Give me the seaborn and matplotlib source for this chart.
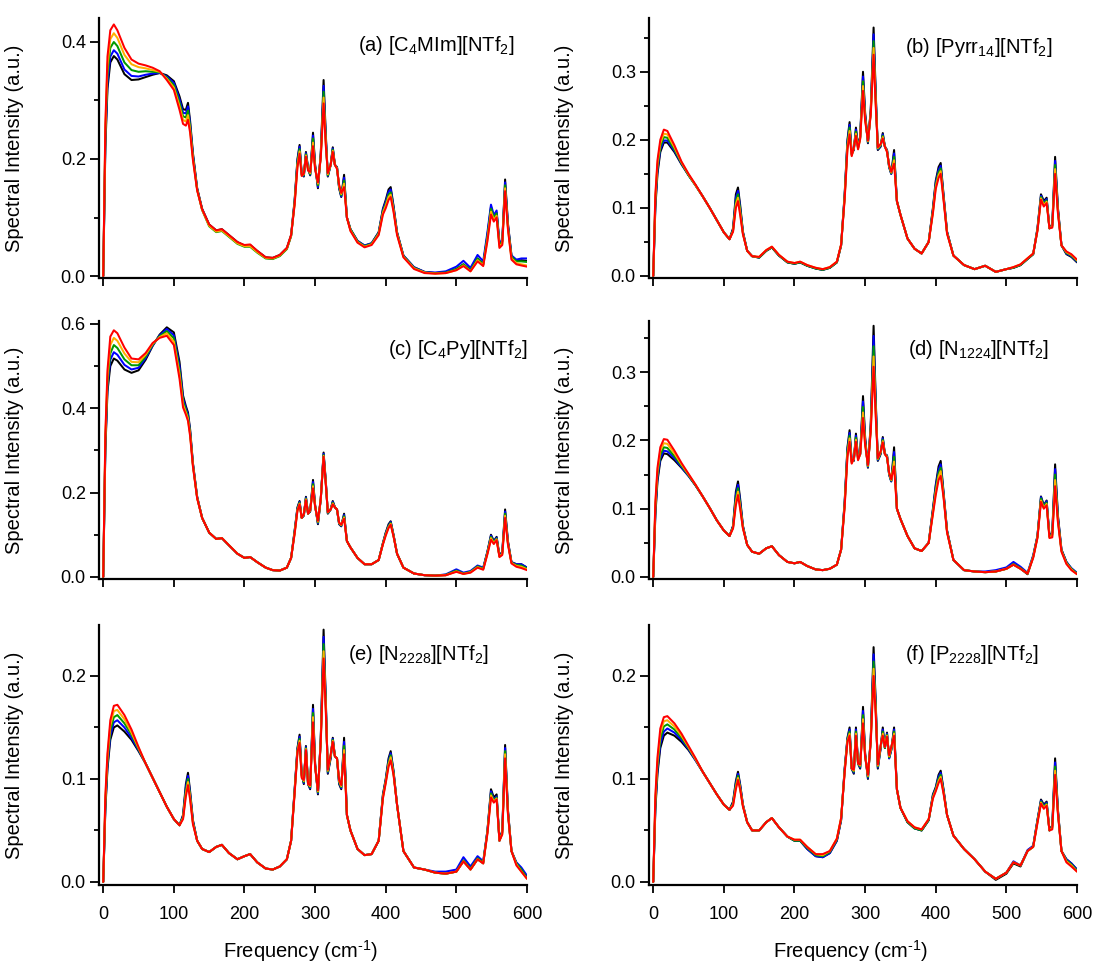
import numpy as np
import pandas as pd
import matplotlib
matplotlib.use("Agg")
import matplotlib.pyplot as plt
from matplotlib.ticker import MultipleLocator, FormatStrFormatter
import seaborn as sns

# ---------------------------------------------------------------- data
freq = [0, 3, 6, 10, 15, 20, 30, 40, 50, 60,
        70, 80, 90, 100, 108, 113, 117, 120, 123, 127,
        133, 140, 150, 160, 168, 178, 190, 200, 208, 218,
        230, 240, 250, 260, 266, 271, 275, 278, 281, 284,
        287, 290, 293, 297, 300, 304, 308, 312, 315, 318,
        322, 325, 328, 331, 334, 337, 341, 345, 350, 360,
        370, 380, 390, 396, 400, 404, 407, 411, 416, 425,
        440, 455, 470, 485, 500, 510, 520, 530, 538, 544,
        549, 553, 557, 561, 565, 569, 573, 578, 585, 592, 600]

trace_names = ["black", "blue", "green", "orange", "red"]
trace_colors = ["#000000", "#0000ff", "#009a00", "#ffb000", "#ff0000"]

# (a) [C4MIm][NTf2]
a_black = [0, .22, .32, .365, .376, .37, .345, .335, .336, .34,
           .344, .347, .343, .333, .307, .285, .284, .296, .265, .21,
           .15, .115, .088, .078, .08, .07, .058, .052, .053, .043,
           .032, .031, .036, .048, .07, .13, .2, .224, .175, .17,
           .212, .185, .172, .245, .19, .15, .21, .335, .245, .17,
           .19, .22, .19, .186, .15, .135, .173, .1, .08, .06,
           .052, .056, .075, .115, .13, .148, .152, .12, .075, .035,
           .015, .007, .005, .006, .012, .02, .01, .03, .02, .07,
           .118, .1, .108, .055, .06, .165, .09, .035, .026, .027, .026]
a_blue = [0, .23, .33, .375, .386, .38, .353, .342, .341, .344,
          .346, .347, .341, .33, .302, .279, .278, .29, .26, .207,
          .149, .114, .087, .077, .079, .069, .057, .051, .052, .042,
          .031, .03, .035, .047, .069, .128, .197, .221, .174, .171,
          .21, .184, .173, .24, .188, .152, .208, .325, .24, .171,
          .19, .218, .19, .186, .151, .136, .168, .1, .08, .06,
          .052, .056, .074, .113, .127, .144, .148, .118, .074, .035,
          .015, .007, .006, .008, .016, .026, .014, .036, .025, .075,
          .122, .104, .112, .058, .06, .16, .088, .035, .028, .03, .03]
a_green = [0, .24, .345, .39, .40, .393, .365, .352, .349, .35,
           .349, .348, .339, .326, .296, .273, .271, .283, .255, .204,
           .148, .113, .085, .075, .077, .067, .055, .05, .05, .04,
           .03, .029, .034, .046, .068, .126, .194, .217, .173, .172,
           .208, .183, .174, .235, .186, .155, .206, .315, .235, .172,
           .19, .216, .19, .185, .152, .138, .163, .1, .08, .059,
           .051, .055, .073, .11, .123, .139, .143, .115, .073, .034,
           .014, .006, .005, .006, .012, .02, .01, .03, .02, .068,
           .115, .1, .107, .054, .058, .155, .085, .033, .025, .025, .024]
a_orange = [0, .25, .36, .405, .415, .407, .378, .362, .357, .355,
            .352, .349, .337, .322, .29, .267, .264, .275, .25, .201,
            .147, .113, .086, .076, .078, .068, .056, .051, .051, .041,
            .031, .03, .035, .047, .069, .124, .19, .213, .172, .174,
            .206, .182, .176, .228, .184, .158, .204, .305, .23, .174,
            .19, .214, .19, .184, .154, .14, .158, .1, .078, .058,
            .05, .054, .072, .108, .12, .135, .139, .113, .072, .033,
            .013, .006, .004, .005, .01, .018, .008, .027, .018, .063,
            .11, .096, .103, .05, .055, .15, .082, .03, .022, .02, .018]
a_red = [0, .26, .375, .42, .43, .42, .39, .37, .363, .36,
         .356, .35, .335, .318, .284, .26, .257, .267, .245, .198,
         .146, .114, .088, .078, .08, .07, .058, .053, .054, .043,
         .032, .031, .036, .048, .07, .122, .186, .209, .171, .175,
         .204, .18, .178, .222, .182, .16, .202, .295, .225, .176,
         .19, .212, .19, .183, .156, .142, .152, .1, .077, .057,
         .049, .053, .07, .105, .116, .13, .135, .11, .07, .032,
         .012, .005, .004, .005, .01, .017, .008, .025, .017, .06,
         .105, .093, .1, .048, .053, .145, .08, .028, .02, .018, .016]

# (b) [Pyrr14][NTf2]
b_black = [0, .10, .15, .182, .196, .196, .182, .164, .148, .133,
           .117, .100, .082, .064, .054, .070, .120, .130, .105, .065,
           .037, .029, .027, .037, .042, .030, .020, .018, .020, .015,
           .011, .009, .012, .020, .045, .120, .200, .226, .180, .185,
           .218, .190, .205, .300, .240, .195, .245, .365, .270, .185,
           .190, .210, .190, .185, .160, .150, .185, .110, .090, .055,
           .040, .033, .050, .100, .140, .160, .166, .120, .065, .030,
           .016, .010, .015, .006, .010, .012, .016, .025, .032, .070,
           .120, .110, .115, .070, .075, .175, .100, .045, .032, .028, .020]
b_blue = [0, .105, .155, .186, .199, .199, .184, .165, .148, .133,
          .117, .100, .082, .064, .054, .068, .115, .125, .101, .064,
          .037, .029, .027, .037, .042, .030, .020, .018, .020, .015,
          .011, .009, .012, .020, .045, .118, .197, .222, .179, .186,
          .215, .189, .204, .293, .237, .196, .243, .355, .265, .186,
          .191, .208, .190, .185, .160, .150, .180, .110, .090, .055,
          .040, .033, .050, .098, .137, .156, .162, .118, .065, .030,
          .016, .010, .015, .006, .010, .012, .016, .025, .032, .069,
          .118, .108, .113, .070, .074, .169, .098, .045, .033, .029, .021]
b_green = [0, .11, .16, .19, .204, .203, .186, .166, .148, .133,
           .117, .100, .082, .064, .054, .067, .110, .120, .098, .063,
           .037, .029, .027, .037, .042, .030, .020, .018, .020, .015,
           .011, .009, .012, .020, .045, .116, .194, .218, .178, .187,
           .212, .188, .203, .286, .234, .197, .241, .345, .260, .187,
           .192, .206, .190, .184, .161, .151, .175, .110, .090, .055,
           .040, .033, .050, .096, .134, .152, .158, .116, .064, .030,
           .016, .010, .015, .006, .010, .012, .016, .025, .032, .068,
           .116, .106, .111, .070, .073, .163, .096, .045, .034, .030, .022]
b_orange = [0, .115, .165, .195, .209, .208, .189, .167, .149, .133,
            .117, .100, .082, .064, .054, .066, .105, .115, .094, .062,
            .037, .029, .028, .038, .043, .031, .021, .019, .021, .016,
            .012, .010, .013, .021, .046, .114, .190, .213, .177, .188,
            .209, .187, .202, .279, .231, .198, .239, .335, .255, .188,
            .193, .204, .190, .183, .162, .152, .170, .110, .090, .055,
            .040, .033, .050, .094, .131, .148, .154, .114, .063, .030,
            .016, .010, .015, .006, .010, .013, .017, .026, .033, .067,
            .114, .104, .109, .070, .072, .157, .094, .045, .035, .031, .023]
b_red = [0, .12, .17, .20, .215, .213, .192, .168, .150, .134,
         .117, .100, .082, .064, .054, .065, .100, .110, .090, .061,
         .037, .029, .028, .038, .043, .031, .021, .019, .021, .016,
         .012, .010, .013, .021, .046, .112, .186, .208, .176, .189,
         .206, .186, .201, .272, .228, .199, .237, .325, .250, .189,
         .194, .202, .190, .182, .163, .153, .165, .110, .090, .055,
         .040, .033, .050, .092, .128, .144, .150, .112, .062, .030,
         .016, .010, .015, .006, .010, .013, .017, .026, .033, .066,
         .112, .102, .107, .070, .071, .150, .092, .045, .036, .032, .024]

# (c) [C4Py][NTf2]
c_black = [0, .30, .44, .50, .518, .513, .492, .484, .490, .515,
           .548, .575, .592, .580, .510, .430, .405, .390, .350, .270,
           .190, .140, .105, .090, .092, .075, .055, .045, .047, .035,
           .022, .016, .015, .022, .045, .110, .165, .180, .140, .145,
           .190, .150, .155, .230, .170, .125, .185, .295, .230, .150,
           .160, .180, .165, .160, .125, .120, .150, .085, .070, .045,
           .030, .030, .040, .080, .105, .125, .132, .100, .055, .022,
           .008, .004, .003, .004, .014, .008, .012, .025, .020, .060,
           .100, .085, .095, .050, .060, .160, .085, .035, .030, .030, .022]
c_blue = [0, .31, .45, .515, .533, .527, .503, .492, .496, .519,
          .549, .573, .588, .573, .500, .423, .400, .385, .346, .268,
          .189, .140, .105, .090, .092, .075, .055, .045, .047, .035,
          .022, .016, .015, .022, .045, .108, .163, .178, .140, .146,
          .188, .150, .156, .225, .169, .127, .185, .292, .228, .151,
          .160, .178, .165, .160, .126, .121, .147, .085, .070, .045,
          .030, .030, .040, .080, .104, .122, .130, .099, .055, .022,
          .008, .004, .003, .006, .018, .010, .014, .027, .022, .060,
          .098, .084, .093, .050, .058, .155, .083, .035, .030, .030, .022]
c_green = [0, .32, .46, .53, .55, .543, .516, .502, .502, .523,
           .551, .571, .583, .566, .490, .416, .395, .380, .342, .266,
           .188, .140, .105, .090, .092, .075, .055, .045, .047, .035,
           .022, .016, .015, .022, .045, .106, .161, .176, .140, .147,
           .186, .150, .157, .220, .168, .129, .185, .289, .226, .152,
           .160, .176, .165, .160, .127, .122, .144, .085, .070, .045,
           .030, .030, .040, .079, .102, .120, .128, .098, .055, .022,
           .008, .004, .003, .005, .015, .008, .012, .025, .020, .058,
           .095, .082, .091, .049, .056, .150, .081, .034, .028, .027, .020]
c_orange = [0, .33, .475, .55, .567, .56, .53, .51, .509, .527,
            .553, .569, .578, .558, .480, .409, .390, .375, .338, .264,
            .187, .140, .105, .090, .092, .075, .055, .045, .047, .035,
            .022, .016, .015, .022, .045, .104, .159, .174, .140, .148,
            .184, .150, .158, .215, .167, .131, .185, .287, .224, .153,
            .160, .174, .165, .160, .128, .123, .141, .085, .070, .045,
            .030, .030, .040, .078, .100, .118, .126, .097, .055, .022,
            .008, .004, .003, .004, .013, .007, .011, .023, .018, .056,
            .092, .080, .089, .048, .054, .145, .079, .033, .026, .024, .018]
c_red = [0, .34, .49, .57, .585, .578, .544, .518, .516, .531,
         .555, .567, .572, .550, .470, .402, .385, .370, .334, .262,
         .186, .140, .105, .090, .092, .075, .055, .045, .047, .035,
         .022, .016, .015, .022, .045, .102, .157, .172, .140, .149,
         .182, .150, .159, .210, .166, .133, .185, .285, .222, .154,
         .160, .172, .165, .160, .129, .124, .138, .085, .070, .045,
         .030, .030, .040, .077, .098, .116, .124, .096, .055, .022,
         .008, .004, .003, .004, .012, .007, .010, .022, .017, .054,
         .088, .078, .087, .047, .052, .140, .077, .032, .024, .021, .016]

# (d) [N1224][NTf2]
d_black = [0, .09, .14, .170, .181, .180, .171, .160, .148, .134,
           .118, .101, .083, .068, .060, .075, .125, .140, .115, .075,
           .047, .037, .034, .042, .045, .032, .022, .020, .022, .016,
           .011, .010, .012, .018, .040, .110, .190, .215, .170, .170,
           .210, .175, .180, .265, .205, .160, .225, .368, .260, .170,
           .180, .205, .180, .178, .150, .140, .190, .100, .085, .060,
           .042, .038, .050, .100, .135, .162, .170, .125, .068, .025,
           .010, .008, .007, .008, .012, .018, .012, .004, .030, .060,
           .118, .105, .112, .060, .065, .165, .090, .040, .022, .012, .005]
d_blue = [0, .095, .145, .174, .185, .184, .174, .161, .148, .134,
          .118, .101, .083, .068, .060, .074, .120, .135, .111, .074,
          .047, .037, .034, .042, .045, .032, .022, .020, .022, .016,
          .011, .010, .012, .018, .040, .108, .187, .211, .169, .171,
          .207, .174, .180, .257, .202, .161, .222, .353, .255, .171,
          .181, .203, .180, .178, .150, .140, .183, .100, .085, .060,
          .042, .038, .050, .098, .132, .157, .165, .123, .068, .025,
          .010, .008, .008, .010, .014, .022, .015, .006, .032, .060,
          .117, .104, .111, .060, .064, .158, .088, .040, .022, .013, .006]
d_green = [0, .10, .15, .179, .190, .189, .177, .163, .149, .134,
           .118, .101, .083, .068, .060, .073, .115, .130, .107, .073,
           .047, .037, .034, .042, .045, .032, .022, .020, .022, .016,
           .011, .010, .012, .018, .040, .106, .184, .207, .168, .172,
           .204, .173, .180, .249, .199, .162, .219, .338, .248, .172,
           .182, .201, .180, .177, .151, .141, .176, .100, .085, .060,
           .042, .038, .050, .096, .128, .152, .160, .121, .067, .025,
           .010, .008, .007, .008, .012, .019, .013, .005, .030, .059,
           .115, .103, .109, .059, .062, .150, .085, .039, .021, .012, .005]
d_orange = [0, .105, .155, .185, .196, .195, .181, .165, .150, .135,
            .118, .101, .083, .068, .060, .072, .110, .125, .103, .072,
            .047, .037, .034, .042, .045, .032, .022, .020, .022, .016,
            .011, .010, .012, .018, .040, .104, .180, .203, .167, .173,
            .201, .172, .180, .241, .196, .163, .216, .323, .241, .173,
            .183, .199, .180, .176, .152, .142, .169, .100, .085, .060,
            .042, .038, .050, .094, .124, .147, .155, .119, .066, .025,
            .010, .008, .007, .008, .012, .018, .012, .005, .029, .058,
            .112, .101, .107, .058, .060, .142, .082, .038, .020, .011, .004]
d_red = [0, .11, .16, .19, .202, .201, .185, .167, .151, .135,
         .118, .101, .083, .068, .060, .071, .105, .120, .100, .071,
         .047, .037, .034, .042, .045, .032, .022, .020, .022, .016,
         .011, .010, .012, .018, .040, .102, .176, .198, .166, .174,
         .198, .171, .180, .233, .193, .164, .213, .308, .235, .174,
         .184, .197, .180, .175, .153, .143, .162, .100, .085, .060,
         .042, .038, .050, .092, .120, .142, .148, .117, .065, .025,
         .010, .008, .007, .008, .012, .018, .012, .005, .028, .057,
         .110, .100, .105, .057, .058, .133, .080, .037, .019, .010, .004]

# (e) [N2228][NTf2]
e_black = [0, .07, .11, .138, .150, .152, .146, .138, .127, .115,
           .101, .087, .073, .061, .055, .065, .095, .106, .088, .060,
           .040, .032, .029, .034, .036, .028, .022, .025, .027, .019,
           .013, .012, .015, .022, .040, .090, .130, .143, .105, .095,
           .132, .095, .090, .172, .115, .085, .140, .245, .180, .105,
           .120, .140, .122, .120, .095, .090, .140, .065, .050, .032,
           .026, .027, .040, .085, .100, .120, .127, .108, .075, .030,
           .014, .012, .009, .008, .010, .020, .012, .022, .018, .050,
           .090, .082, .085, .040, .050, .133, .070, .030, .018, .012, .005]
e_blue = [0, .073, .113, .142, .155, .157, .150, .140, .128, .115,
          .101, .087, .073, .061, .055, .064, .092, .103, .086, .059,
          .040, .032, .029, .034, .036, .028, .022, .025, .027, .019,
          .013, .012, .015, .022, .040, .089, .129, .141, .104, .096,
          .131, .095, .091, .168, .114, .086, .139, .238, .177, .106,
          .121, .139, .122, .120, .096, .091, .136, .065, .050, .032,
          .026, .027, .040, .084, .099, .118, .125, .107, .075, .030,
          .014, .012, .010, .010, .012, .024, .015, .025, .020, .050,
          .088, .080, .083, .040, .049, .130, .069, .030, .019, .014, .006]
e_green = [0, .076, .117, .147, .160, .162, .154, .143, .129, .115,
           .101, .087, .073, .061, .055, .063, .089, .100, .084, .058,
           .040, .032, .029, .034, .036, .028, .022, .025, .027, .019,
           .013, .012, .015, .022, .040, .088, .128, .139, .103, .097,
           .130, .095, .092, .164, .113, .087, .138, .231, .174, .107,
           .122, .138, .122, .120, .097, .092, .132, .065, .050, .032,
           .026, .027, .040, .083, .098, .116, .123, .106, .075, .030,
           .014, .012, .009, .008, .010, .021, .013, .023, .019, .049,
           .086, .079, .082, .040, .048, .127, .068, .030, .018, .012, .004]
e_orange = [0, .08, .121, .152, .166, .167, .158, .145, .130, .115,
            .101, .087, .073, .061, .055, .062, .086, .097, .082, .057,
            .040, .032, .029, .034, .036, .028, .022, .025, .027, .019,
            .013, .012, .015, .022, .040, .087, .127, .137, .102, .098,
            .129, .095, .093, .160, .112, .088, .137, .224, .171, .108,
            .123, .137, .122, .120, .098, .093, .128, .065, .050, .032,
            .026, .027, .040, .082, .097, .114, .121, .105, .075, .030,
            .014, .012, .009, .008, .010, .020, .012, .022, .018, .048,
            .084, .078, .081, .040, .047, .124, .067, .030, .017, .010, .003]
e_red = [0, .084, .125, .157, .171, .172, .162, .148, .131, .115,
         .101, .087, .073, .061, .055, .061, .083, .094, .080, .056,
         .040, .032, .029, .034, .036, .028, .022, .025, .027, .019,
         .013, .012, .015, .022, .040, .086, .126, .135, .101, .099,
         .128, .095, .094, .155, .111, .089, .136, .217, .168, .109,
         .124, .136, .122, .120, .099, .094, .124, .065, .050, .032,
         .026, .027, .040, .081, .096, .112, .118, .104, .075, .030,
         .014, .012, .009, .008, .010, .020, .012, .022, .018, .047,
         .082, .077, .080, .040, .046, .120, .066, .030, .016, .010, .003]

# (f) [P2228][NTf2]
f_black = [0, .07, .105, .130, .142, .145, .142, .136, .128, .118,
           .107, .096, .085, .075, .070, .078, .098, .107, .095, .075,
           .058, .050, .050, .058, .062, .053, .044, .040, .040, .032,
           .025, .024, .028, .040, .060, .110, .140, .150, .110, .105,
           .150, .115, .110, .170, .125, .100, .140, .228, .175, .110,
           .130, .150, .130, .145, .120, .128, .150, .090, .072, .058,
           .052, .050, .060, .085, .092, .104, .108, .090, .065, .045,
           .032, .022, .010, .002, .008, .018, .015, .030, .035, .060,
           .080, .075, .078, .050, .055, .120, .070, .030, .022, .018, .012]
f_blue = [0, .073, .109, .134, .146, .149, .145, .138, .129, .118,
          .107, .096, .085, .075, .070, .077, .096, .105, .094, .075,
          .058, .050, .050, .058, .062, .053, .044, .040, .040, .032,
          .025, .024, .028, .040, .060, .109, .139, .148, .110, .106,
          .148, .115, .111, .166, .124, .101, .139, .221, .172, .111,
          .130, .148, .130, .144, .120, .128, .148, .090, .072, .058,
          .052, .050, .060, .084, .091, .102, .106, .089, .065, .045,
          .032, .022, .010, .003, .009, .020, .016, .031, .035, .060,
          .079, .074, .077, .050, .054, .116, .069, .030, .022, .018, .012]
f_green = [0, .076, .113, .139, .151, .153, .148, .140, .130, .119,
           .107, .096, .085, .075, .070, .076, .094, .103, .092, .074,
           .058, .050, .050, .058, .062, .053, .044, .040, .040, .033,
           .026, .025, .029, .041, .061, .108, .138, .146, .110, .107,
           .146, .115, .112, .162, .123, .102, .138, .214, .169, .112,
           .131, .146, .130, .143, .121, .129, .146, .090, .072, .058,
           .052, .050, .060, .083, .090, .100, .104, .088, .065, .045,
           .032, .022, .010, .003, .009, .019, .016, .030, .034, .059,
           .078, .073, .076, .050, .053, .112, .068, .030, .021, .017, .011]
f_orange = [0, .08, .117, .144, .156, .157, .151, .142, .131, .119,
            .107, .096, .085, .075, .070, .075, .092, .101, .091, .074,
            .058, .050, .050, .058, .062, .053, .044, .041, .041, .034,
            .027, .026, .030, .042, .062, .107, .137, .144, .110, .108,
            .144, .115, .113, .158, .122, .103, .137, .207, .166, .113,
            .132, .144, .131, .142, .122, .130, .144, .090, .072, .059,
            .053, .051, .061, .082, .089, .098, .102, .087, .065, .045,
            .032, .022, .010, .003, .009, .019, .016, .030, .034, .058,
            .077, .072, .075, .050, .052, .108, .067, .030, .020, .016, .010]
f_red = [0, .084, .121, .149, .160, .161, .154, .144, .132, .120,
         .107, .096, .085, .075, .070, .074, .090, .099, .090, .073,
         .058, .050, .050, .058, .062, .053, .044, .041, .041, .034,
         .027, .027, .030, .042, .062, .106, .136, .142, .110, .109,
         .142, .115, .114, .154, .121, .104, .136, .200, .163, .114,
         .133, .142, .131, .141, .123, .131, .142, .090, .072, .059,
         .053, .051, .061, .081, .088, .096, .100, .086, .065, .045,
         .032, .022, .010, .003, .009, .019, .016, .030, .034, .057,
         .076, .071, .074, .050, .051, .104, .066, .030, .019, .015, .010]

panel_titles = [r"(a) [C$_4$MIm][NTf$_2$]", r"(b) [Pyrr$_{14}$][NTf$_2$]",
                r"(c) [C$_4$Py][NTf$_2$]", r"(d) [N$_{1224}$][NTf$_2$]",
                r"(e) [N$_{2228}$][NTf$_2$]", r"(f) [P$_{2228}$][NTf$_2$]"]
panel_traces = [
    [a_black, a_blue, a_green, a_orange, a_red],
    [b_black, b_blue, b_green, b_orange, b_red],
    [c_black, c_blue, c_green, c_orange, c_red],
    [d_black, d_blue, d_green, d_orange, d_red],
    [e_black, e_blue, e_green, e_orange, e_red],
    [f_black, f_blue, f_green, f_orange, f_red],
]
x_ticks = [0, 100, 200, 300, 400, 500, 600]
x_label = "Frequency (cm$^{\u2010" + "1}$)"

# ---------------------------------------------------------------- styling
sns.set_style("ticks")
plt.rcParams["font.family"] = ["Liberation Sans", "DejaVu Sans"]
plt.rcParams["mathtext.default"] = "regular"
plt.rcParams["axes.unicode_minus"] = False
for key in ("text.color", "axes.labelcolor", "axes.edgecolor",
            "xtick.color", "ytick.color"):
    plt.rcParams[key] = "black"

W, H = 1096, 963
fig = plt.figure(figsize=(W / 100, H / 100), dpi=100)

# pixel boxes (left, top, right, bottom) for each panel
col_x = [(99, 527), (649, 1077)]
row_y = [(18, 278), (321, 579), (625, 885)]
# y-limits, major and minor steps
ylims = [(-0.0034, 0.441), (-0.003, 0.379),
         (-0.005, 0.607), (-0.003, 0.375),
         (-0.003, 0.2495), (-0.003, 0.2495)]
y_major = [0.2, 0.1, 0.2, 0.1, 0.1, 0.1]
y_minor = [0.1, 0.05, 0.1, 0.05, 0.05, 0.05]
title_pos = [(0.605, 0.896), (0.598, 0.888), (0.675, 0.891),
             (0.605, 0.891), (0.582, 0.885), (0.598, 0.885)]

for i in range(6):
    r, c = divmod(i, 2)
    x0, x1 = col_x[c]
    y0, y1 = row_y[r]
    ax = fig.add_axes([x0 / W, 1 - y1 / H, (x1 - x0) / W, (y1 - y0) / H])

    df = pd.DataFrame({
        "freq": np.tile(freq, len(trace_names)),
        "intensity": np.concatenate([np.asarray(t, float) for t in panel_traces[i]]),
        "trace": np.repeat(trace_names, len(freq)),
    })
    sns.lineplot(data=df, x="freq", y="intensity", hue="trace",
                 hue_order=trace_names, palette=trace_colors,
                 estimator=None, sort=False, legend=False,
                 linewidth=1.45, ax=ax)

    ax.set_xlim(-6, 600)
    ax.set_ylim(*ylims[i])
    ax.set_xticks(x_ticks)
    ax.yaxis.set_major_locator(MultipleLocator(y_major[i]))
    ax.yaxis.set_minor_locator(MultipleLocator(y_minor[i]))
    ax.yaxis.set_major_formatter(FormatStrFormatter("%.1f"))

    for side in ("top", "right"):
        ax.spines[side].set_visible(False)
    for side in ("left", "bottom"):
        ax.spines[side].set_linewidth(1.6)
        ax.spines[side].set_color("black")

    ax.tick_params(axis="y", which="major", direction="out", length=6.5,
                   width=1.3, pad=3, labelsize=13, colors="black")
    ax.tick_params(axis="y", which="minor", direction="out", length=3.3,
                   width=1.3, colors="black")
    ax.tick_params(axis="x", which="major", direction="out", length=6,
                   width=1.3, pad=9, labelsize=13, colors="black",
                   labelbottom=(r == 2))

    ax.set_ylabel("Spectral Intensity (a.u.)", fontsize=14.5, color="black")
    ax.yaxis.set_label_coords(-0.176, 0.5)
    if r == 2:
        ax.set_xlabel(x_label, fontsize=14.5, color="black")
        ax.xaxis.set_label_coords(0.47, -0.205)
    else:
        ax.set_xlabel("")

    ax.text(title_pos[i][0], title_pos[i][1], panel_titles[i],
            transform=ax.transAxes, ha="left", va="center", fontsize=14.5,
            color="black")

fig.savefig("out.png", dpi=100)
